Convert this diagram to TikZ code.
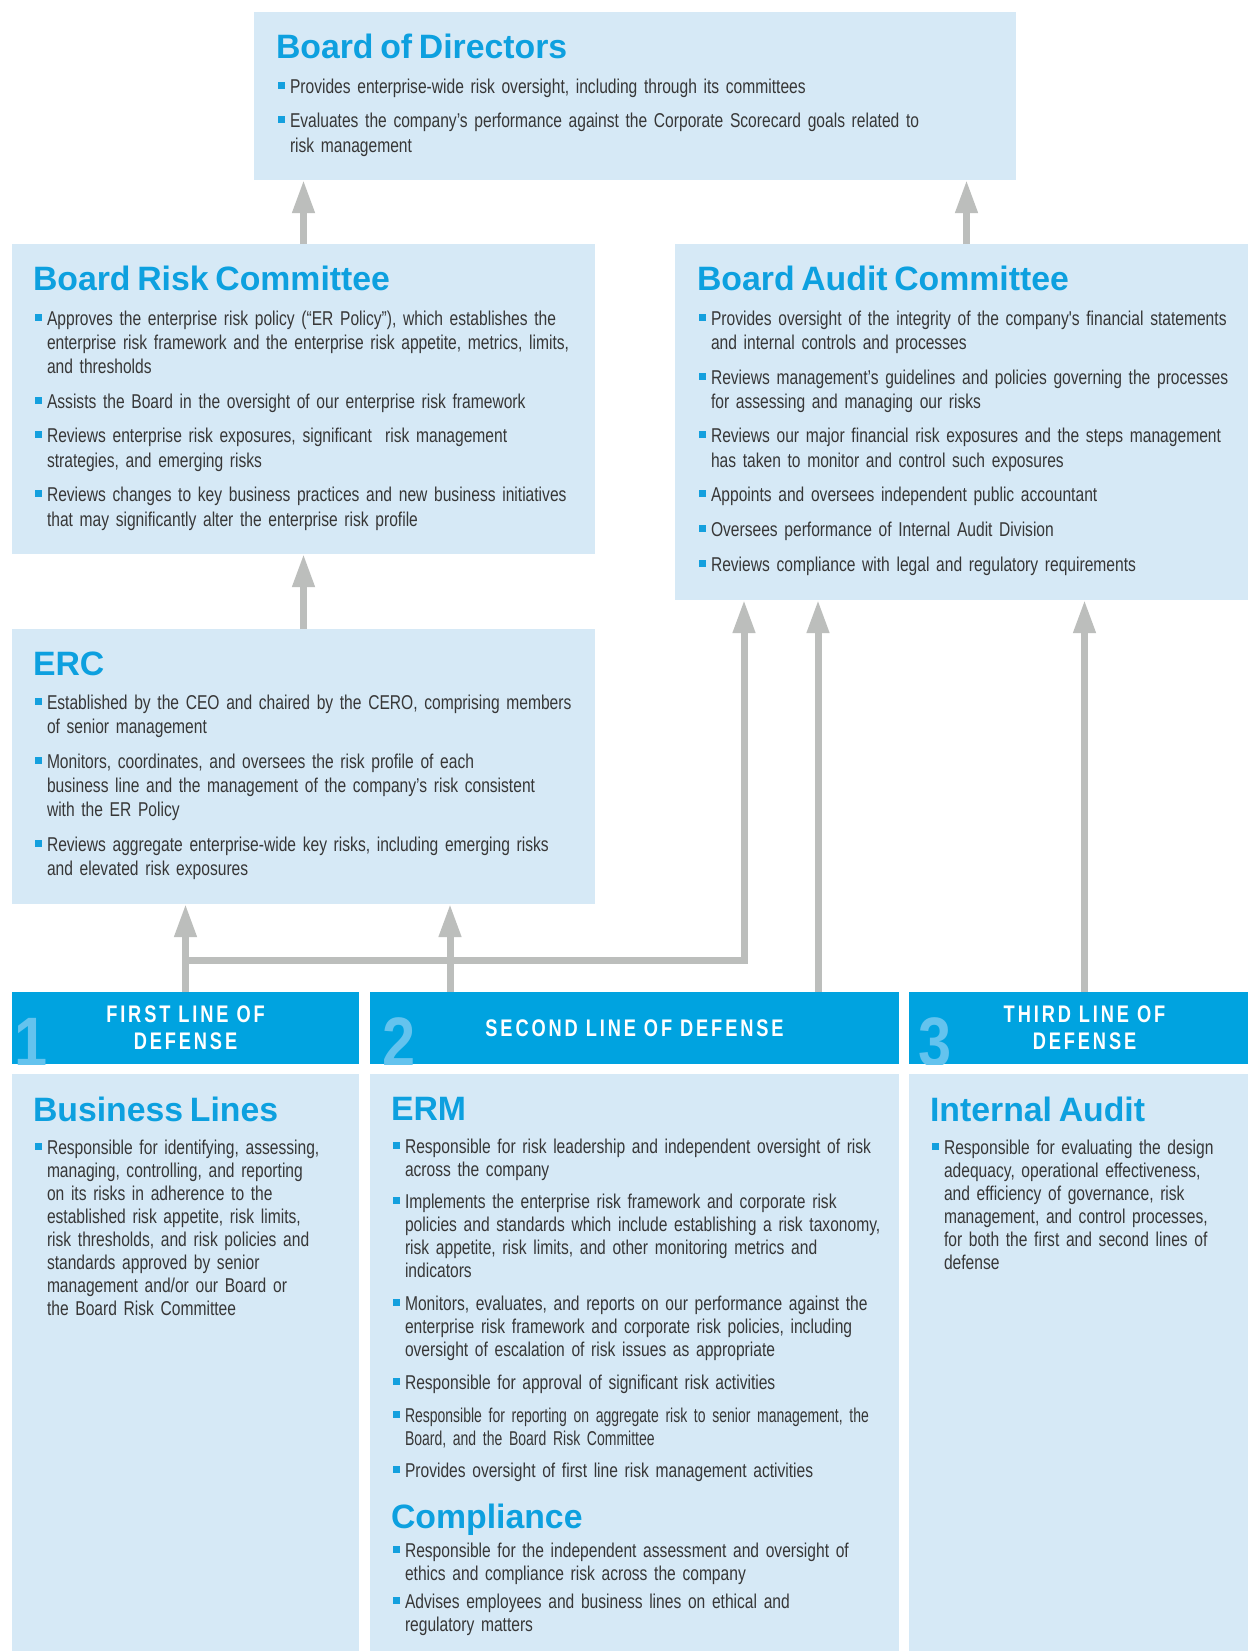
\documentclass[tikz,border=0pt]{standalone}
\usepackage{fontspec}
\setmainfont{Liberation Sans}
\newfontfamily\bodyf[FakeStretch=0.78,WordSpace=0.92]{Liberation Sans}
\newfontfamily\condf[FakeStretch=0.7,WordSpace=0.9]{Liberation Sans}
\newfontfamily\ttlf[WordSpace=0.85]{Liberation Sans}
\newfontfamily\hdrf[FakeStretch=0.76,LetterSpace=12]{Liberation Sans}
\newfontfamily\numf[FakeStretch=0.85]{Liberation Sans}
\usetikzlibrary{arrows.meta}
\definecolor{boxblue}{RGB}{214,233,246}
\definecolor{tblue}{RGB}{13,160,223}
\definecolor{barblue}{RGB}{0,163,224}
\definecolor{numblue}{RGB}{100,195,238}
\definecolor{arrgray}{RGB}{188,190,188}
\definecolor{txtgray}{RGB}{55,55,55}
\definecolor{bul}{RGB}{20,160,222}
\setlength\parindent{0pt}
\newlength\itemgap
\newlength\titlegap
\setlength\itemgap{10.5pt}
\setlength\titlegap{10pt}
\newcommand\ttl[1]{{\ttlf\bfseries\fontsize{33.8}{38}\selectfont\color{tblue}#1\par}\vspace{\titlegap}}
\newcommand\itm[1]{\noindent\hangindent=14pt\hangafter=1\hspace*{2pt}\makebox[12pt][l]{\color{bul}\rule[4.5pt]{7pt}{7pt}}#1\par\vspace{\itemgap}}
\begin{document}
\begin{tikzpicture}[x=1pt,y=-1pt,
 panel/.style={fill=boxblue, draw=none, inner sep=0pt, outer sep=0pt, anchor=north west},
 band/.style={fill=barblue, draw=none, inner sep=0pt, outer sep=0pt, anchor=north west},
 txt/.style={anchor=north west, inner sep=0pt, outer sep=0pt, align=left, text width=800pt, text=txtgray, font=\bodyf\fontsize{20}{24.2}\selectfont},
 txtlow/.style={txt, font=\bodyf\fontsize{20}{23}\selectfont},
 hdr/.style={inner sep=0pt, align=center, text=white, font=\hdrf\bfseries\fontsize{24}{27}\selectfont},
 bignum/.style={anchor=base west, inner sep=0pt, text=numblue, font=\numf\bfseries\fontsize{70}{70}\selectfont},
 arr/.style={draw=arrgray, line width=7pt, -{Triangle[width=21pt,length=33pt]}}
]
\useasboundingbox (0,0) rectangle (1248,1651);
\fill[white] (0,0) rectangle (1248,1651);

% boxes
\node[panel, minimum width=762pt, minimum height=168pt] (bod) at (254,12) {};
\node[panel, minimum width=583pt, minimum height=310pt] (brc) at (12,244) {};
\node[panel, minimum width=573pt, minimum height=356pt] (bac) at (675,244) {};
\node[panel, minimum width=583pt, minimum height=275pt] (erc) at (12,629) {};
\node[band, minimum width=347pt, minimum height=72pt] (band1) at (12,992) {};
\node[band, minimum width=529pt, minimum height=72pt] (band2) at (370,992) {};
\node[band, minimum width=339pt, minimum height=72pt] (band3) at (909,992) {};
\node[panel, minimum width=347pt, minimum height=577pt] (bl) at (12,1074) {};
\node[panel, minimum width=529pt, minimum height=577pt] (erm) at (370,1074) {};
\node[panel, minimum width=339pt, minimum height=577pt] (ia) at (909,1074) {};

% texts
\node[txt] (bodt) at ([shift={(22,22.5)}]bod.north west) {\ttl{Board of Directors}%
\itm{Provides enterprise-wide risk oversight, including through its committees}%
\itm{Evaluates the company’s performance against the Corporate Scorecard goals related to\newline risk management}};

\node[txt] (brct) at ([shift={(21,22.5)}]brc.north west) {\ttl{Board Risk Committee}%
\itm{Approves the enterprise risk policy (“ER Policy”), which establishes the\newline enterprise risk framework and the enterprise risk appetite, metrics, limits,\newline and thresholds}%
\itm{Assists the Board in the oversight of our enterprise risk framework}%
\itm{Reviews enterprise risk exposures, significant\ \ risk management\newline strategies, and emerging risks}%
\itm{Reviews changes to key business practices and new business initiatives\newline that may significantly alter the enterprise risk profile}};

\node[txt] (bact) at ([shift={(22,22.5)}]bac.north west) {\ttl{Board Audit Committee}%
\itm{Provides oversight of the integrity of the company's financial statements\newline and internal controls and processes}%
\itm{Reviews management’s guidelines and policies governing the processes\newline for assessing and managing our risks}%
\itm{Reviews our major financial risk exposures and the steps management\newline has taken to monitor and control such exposures}%
\itm{Appoints and oversees independent public accountant}%
\itm{Oversees performance of Internal Audit Division}%
\itm{Reviews compliance with legal and regulatory requirements}};

\node[txt] (erct) at ([shift={(21,22.5)}]erc.north west) {\ttl{ERC}%
\itm{Established by the CEO and chaired by the CERO, comprising members\newline of senior management}%
\itm{Monitors, coordinates, and oversees the risk profile of each\newline business line and the management of the company’s risk consistent\newline with the ER Policy}%
\itm{Reviews aggregate enterprise-wide key risks, including emerging risks\newline and elevated risk exposures}};

\node[txtlow] (blt) at ([shift={(21,23)}]bl.north west) {\setlength\itemgap{9.7pt}\ttl{Business Lines}%
\itm{Responsible for identifying, assessing,\newline managing, controlling, and reporting\newline on its risks in adherence to the\newline established risk appetite, risk limits,\newline risk thresholds, and risk policies and\newline standards approved by senior\newline management and/or our Board or\newline the Board Risk Committee}};

\node[txtlow] (ermt) at ([shift={(21,23)}]erm.north west) {\setlength\itemgap{9.7pt}\ttl{ERM}%
\itm{Responsible for risk leadership and independent oversight of risk\newline across the company}%
\itm{Implements the enterprise risk framework and corporate risk\newline policies and standards which include establishing a risk taxonomy,\newline risk appetite, risk limits, and other monitoring metrics and\newline indicators}%
\itm{Monitors, evaluates, and reports on our performance against the\newline enterprise risk framework and corporate risk policies, including\newline oversight of escalation of risk issues as appropriate}%
\itm{Responsible for approval of significant risk activities}%
\itm{{\condf Responsible for reporting on aggregate risk to senior management, the\newline Board, and the Board Risk Committee}}%
\itm{Provides oversight of first line risk management activities}%
\vspace{3pt}\setlength\titlegap{6pt}\ttl{Compliance}%
\setlength\itemgap{5.5pt}%
\itm{Responsible for the independent assessment and oversight of\newline ethics and compliance risk across the company}%
\itm{Advises employees and business lines on ethical and\newline regulatory matters}};

\node[txtlow] (iat) at ([shift={(21,23)}]ia.north west) {\setlength\itemgap{9.7pt}\ttl{Internal Audit}%
\itm{Responsible for evaluating the design\newline adequacy, operational effectiveness,\newline and efficiency of governance, risk\newline management, and control processes,\newline for both the first and second lines of\newline defense}};

% band labels
\begin{scope}
\clip (band1.north west) rectangle (band1.south east);
\node[bignum] (n1) at ([shift={(2,2)}]band1.south west) {1};
\end{scope}
\begin{scope}
\clip (band2.north west) rectangle (band2.south east);
\node[bignum] (n2) at ([shift={(12,2)}]band2.south west) {2};
\end{scope}
\begin{scope}
\clip (band3.north west) rectangle (band3.south east);
\node[bignum] (n3) at ([shift={(9,2)}]band3.south west) {3};
\end{scope}
\node[hdr] (h1) at (band1.center) {FIRST LINE OF\\DEFENSE};
\node[hdr] (h2) at (band2.center) {SECOND LINE OF DEFENSE};
\node[hdr] (h3) at ([xshift=6pt]band3.center) {THIRD LINE OF\\DEFENSE};

% connectors
\coordinate (bacup) at ([xshift=5pt]bac.north);
\coordinate (b2a) at ([xshift=80pt]band2.north west);
\coordinate (b2b) at ([xshift=448pt]band2.north west);
\coordinate (b3a) at ([xshift=6pt]band3.north);
\coordinate (joint) at ([yshift=32pt]band1.north);
\coordinate (bacin) at ([xshift=69pt]bac.south west);
\draw[arr] (brc.north) -- (brc.north |- bod.south);
\draw[arr] (bacup) -- (bacup |- bod.south);
\draw[arr] (erc.north) -- (erc.north |- brc.south);
\draw[arr] (band1.north) -- (band1.north |- erc.south);
\draw[arr] (b2a) -- (b2a |- erc.south);
\draw[arr] (joint) -| (bacin);
\draw[arr] (b2b) -- (b2b |- bac.south);
\draw[arr] (b3a) -- (b3a |- bac.south);
\end{tikzpicture}
\end{document}
